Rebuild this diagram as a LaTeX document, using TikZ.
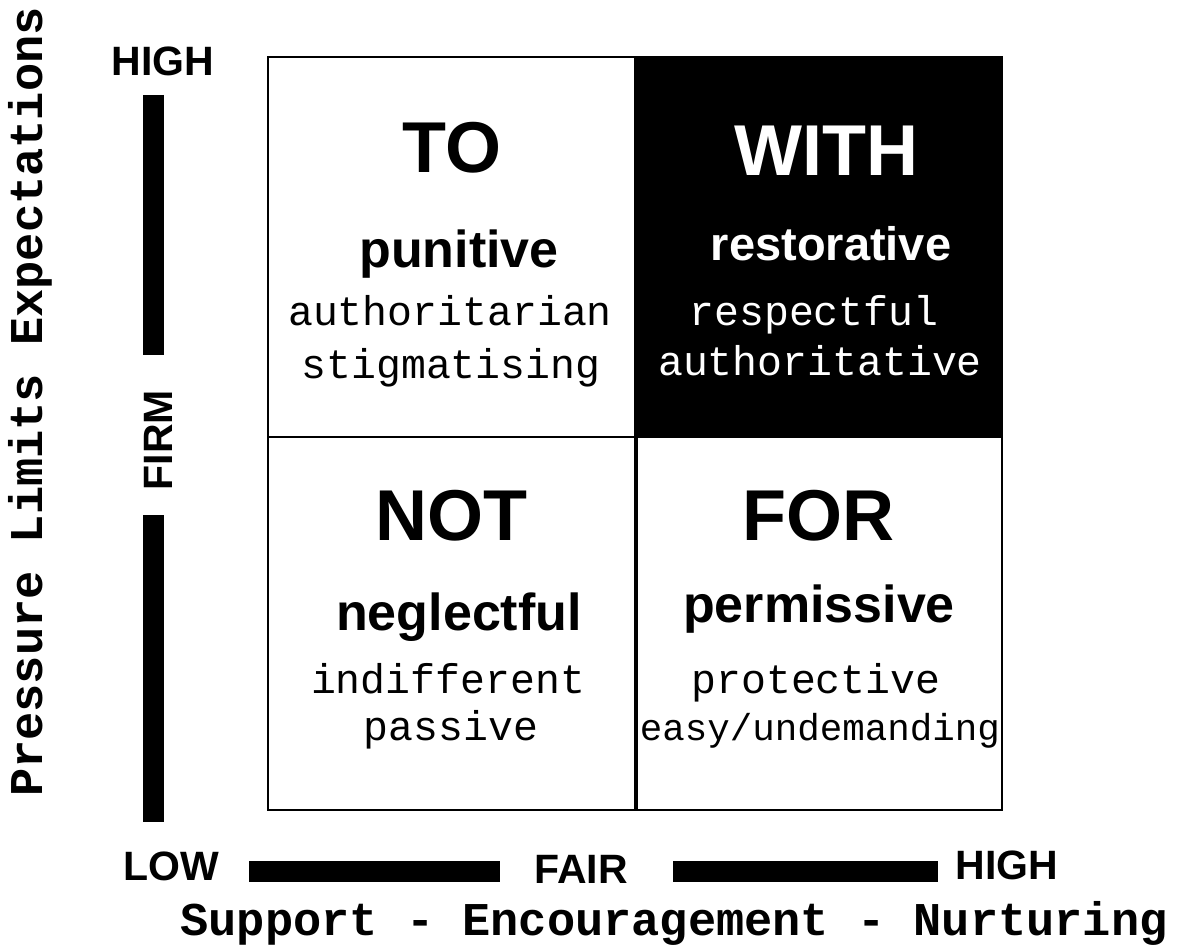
\documentclass[tikz,border=0pt]{standalone}
\usepackage{fontspec}
\setmainfont{Liberation Sans}
\setmonofont{Liberation Mono}
\usetikzlibrary{positioning}

\newcommand{\fsz}[1]{\fontsize{#1}{#1}\selectfont}

\begin{document}
\begin{tikzpicture}[x=1pt, y=-1pt,
        cell/.style={draw, line width=2pt, minimum width=367pt, inner sep=0pt},
        head/.style={anchor=base, font=\fsz{72}\bfseries},
        kind/.style={anchor=base, font=\fsz{52}\bfseries},
        trait/.style={anchor=base, font=\fsz{41.5}\ttfamily},
        level/.style={anchor=base, font=\fsz{41}\bfseries},
        axis/.style={anchor=base, font=\fsz{47}\ttfamily\bfseries},
        bar/.style={line width=21pt},
    ]
    \useasboundingbox (0,0) rectangle (1190,947);
    \node[cell, minimum height=380pt] (to) at (451.5,247) {};
    \node[cell, minimum height=380pt, fill=black] (with) at (818.5,247) {};
    \node[cell, minimum height=373pt] (not) at (451.5,623.5) {};
    \node[cell, minimum height=373pt, minimum width=365pt] (for) at (819.5,623.5) {};
    \node[head] (to-h) at (452,172) {TO};
    \node[kind] (to-k) at (459,267) {punitive};
    \node[trait] (to-a) at (450,325) {authoritarian};
    \node[trait] (to-b) at (451,378) {stigmatising};
    \node[head, white] (with-h) at (826,175) {WITH};
    \node[kind, white, font=\fsz{47}\bfseries] (with-k) at (831,260) {restorative};
    \node[trait, white] (with-a) at (814,325) {respectful};
    \node[trait, white] (with-b) at (820,375) {authoritative};
    \node[head] (not-h) at (451,540) {NOT};
    \node[kind] (not-k) at (459,630) {neglectful};
    \node[trait] (not-a) at (448,693) {indifferent};
    \node[trait] (not-b) at (451,740) {passive};
    \node[head] (for-h) at (818,540) {FOR};
    \node[kind] (for-k) at (819,622) {permissive};
    \node[trait] (for-a) at (816,693) {protective};
    \node[trait, font=\fsz{37.5}\ttfamily] (for-b) at (820,740) {easy/undemanding};
    % axes
    \node[level] (yhigh) at (163,76) {HIGH};
    \node[level, rotate=90] (yfirm) at (172,440) {FIRM};
    \node[level] (xlow) at (171,880) {LOW};
    \node[level] (xfair) at (581,883) {FAIR};
    \node[level] (xhigh) at (1007,879) {HIGH};
    \node[axis, rotate=90] (ylabel) at (42,402) {Pressure Limits Expectations};
    \node[axis] (xlabel) at (674,935) {Support - Encouragement - Nurturing};
    \coordinate (v1a) at (153,95);
    \coordinate (v1b) at (153,355);
    \coordinate (v2a) at (153,515);
    \coordinate (v2b) at (153,822);
    \coordinate (h1a) at (249,871);
    \coordinate (h1b) at (500,871);
    \coordinate (h2a) at (673,871);
    \coordinate (h2b) at (938,871);
    \draw[bar] (v1a) -- (v1b);
    \draw[bar] (v2a) -- (v2b);
    \draw[bar] (h1a) -- (h1b);
    \draw[bar] (h2a) -- (h2b);
\end{tikzpicture}
\end{document}
